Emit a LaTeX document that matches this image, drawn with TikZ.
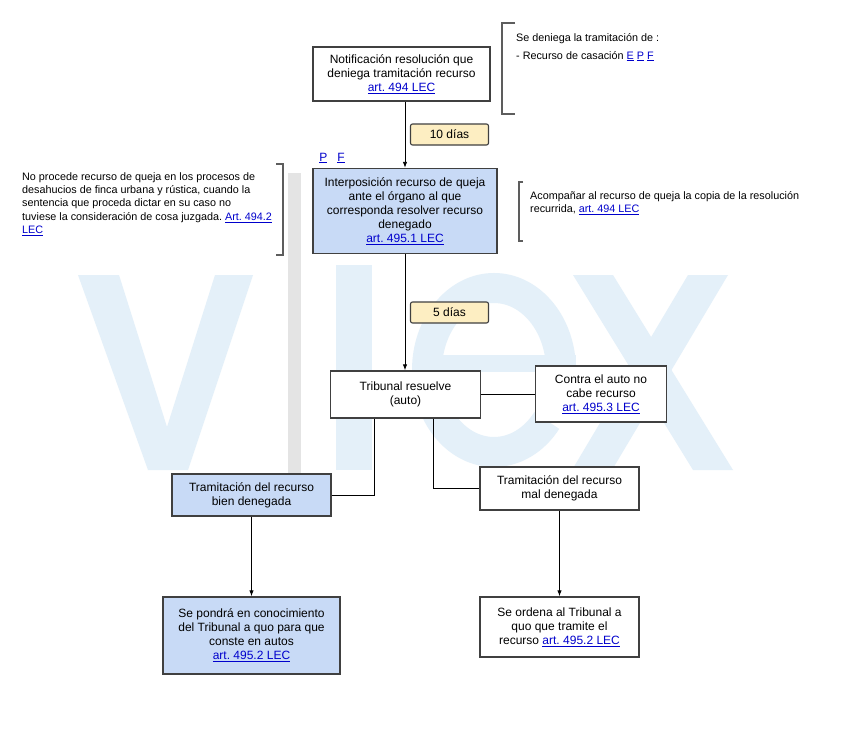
\documentclass[tikz,border=0pt]{standalone}
\usepackage{fontspec}
\setmainfont{Liberation Sans}
\usetikzlibrary{arrows.meta,positioning,calc}
\definecolor{boxblue}{RGB}{200,218,246}
\definecolor{dayyellow}{RGB}{253,238,194}
\definecolor{linkblue}{RGB}{0,0,204}
\definecolor{edgegray}{RGB}{64,64,64}
\definecolor{wmblue}{RGB}{228,240,249}
\definecolor{wmgray}{RGB}{228,228,228}
\frenchspacing
\newcommand{\lnk}[1]{{\color{linkblue}\underline{#1}}}
\tikzset{
  stepbox/.style={draw=edgegray, line width=1.4pt, fill=white, align=center,
    font=\fontsize{12}{14}\selectfont, inner sep=2pt},
  bluebox/.style={stepbox, fill=boxblue},
  daybox/.style={draw=edgegray, line width=1.1pt, fill=dayyellow, rounded corners=2pt,
    minimum width=78, minimum height=21, font=\fontsize{12}{13}\selectfont},
  note/.style={align=left, font=\fontsize{10.8}{13.4}\selectfont, inner sep=0pt, anchor=north west},
  arr/.style={-{Latex[length=6pt,width=4.5pt]}, line width=0.9pt},
  link/.style={line width=0.9pt},
  brk/.style={draw=edgegray!85, line width=1.2pt}
}
\begin{document}
\begin{tikzpicture}[x=1pt,y=-1pt]
  \useasboundingbox[fill=white] (0,0) rectangle (848,744);
  % watermark
  \fill[wmblue] (78,275) -- (119,275) -- (167,427) -- (215,275) -- (253,275)
     -- (188,470) -- (148,470) -- cycle;
  \fill[wmblue] (336,265) rectangle (372,470);
  \draw[wmblue, line width=30pt] (561,370) arc[start angle=0, end angle=-322, x radius=67, y radius=82];
  \fill[wmblue] (428,355) rectangle (576,372);
  \fill[wmblue] (573,275) -- (613,275) -- (733,470) -- (693,470) -- cycle;
  \fill[wmblue] (688,275) -- (728,275) -- (612,470) -- (572,470) -- cycle;
  \fill[wmgray] (288,173) rectangle (301,473);

  % main boxes
  \node[stepbox, minimum width=177, minimum height=54] (notif) at (401.5,74)
    {Notificación resolución que\\deniega tramitación recurso\\\lnk{art. 494 LEC}};
  \node[bluebox, minimum width=184, minimum height=85] (interp) at (405,211)
    {Interposición recurso de queja\\ante el órgano al que\\corresponda resolver recurso\\denegado\\\lnk{art. 495.1 LEC}};
  \node[stepbox, minimum width=150, minimum height=47] (trib) at (405.5,394.5)
    {Tribunal resuelve\\(auto)};
  \node[stepbox, minimum width=131, minimum height=56] (contra) at (601,394)
    {Contra el auto no\\cabe recurso\\\lnk{art. 495.3 LEC}};
  \node[bluebox, minimum width=159, minimum height=42] (bien) at (251.5,495)
    {Tramitación del recurso\\bien denegada};
  \node[stepbox, minimum width=159, minimum height=43] (mal) at (559.5,488.5)
    {Tramitación del recurso\\mal denegada};
  \node[bluebox, minimum width=177, minimum height=77] (pondra) at (251.5,635.5)
    {Se pondrá en conocimiento\\del Tribunal a quo para que\\conste en autos\\\lnk{art. 495.2 LEC}};
  \node[stepbox, minimum width=159, minimum height=60] (ordena) at (559.5,627)
    {Se ordena al Tribunal a\\quo que tramite el\\recurso \lnk{art. 495.2 LEC}};

  % plazos
  \node[daybox] (d10) at (449.5,134.5) {10 días};
  \node[daybox] (d5) at (449.5,312.5) {5 días};

  % connectors
  \draw[arr] (notif.south -| interp.north) -- (interp.north);
  \draw[arr] (interp.south) -- (interp.south |- trib.north);
  \draw[link] (trib.east) -- (trib.east -| contra.west);
  \draw[link] ([xshift=-31.5pt]trib.south) |- (bien.east);
  \draw[link] ([xshift=27.5pt]trib.south) |- (mal.west);
  \draw[arr] (bien.south) -- (bien.south |- pondra.north);
  \draw[arr] (mal.south) -- (ordena.north);

  % notes
  \draw[brk] (515,23) -- (502,23) -- (502,114) -- (515,114);
  \node[note] (deneg) at (516,33)
    {Se deniega la tramitación de :\\[4.5pt]- Recurso de casación \lnk{E} \lnk{P} \lnk{F}};
  \node (pf) at (332,158) {\fontsize{12}{13}\selectfont\lnk{P}\hspace{10pt}\lnk{F}};
  \draw[brk] (276,164) -- (283,164) -- (283,255) -- (276,255);
  \node[note] (desah) at (22,172)
    {No procede recurso de queja en los procesos de\\desahucios de finca urbana y rústica, cuando la\\sentencia que proceda dictar en su caso no\\tuviese la consideración de cosa juzgada. \lnk{Art. 494.2}\\\lnk{LEC}};
  \draw[brk] (523,182) -- (519,182) -- (519,241) -- (523,241);
  \node[note] (copia) at (530,191)
    {Acompañar al recurso de queja la copia de la resolución\\recurrida, \lnk{art. 494 LEC}};
\end{tikzpicture}
\end{document}
